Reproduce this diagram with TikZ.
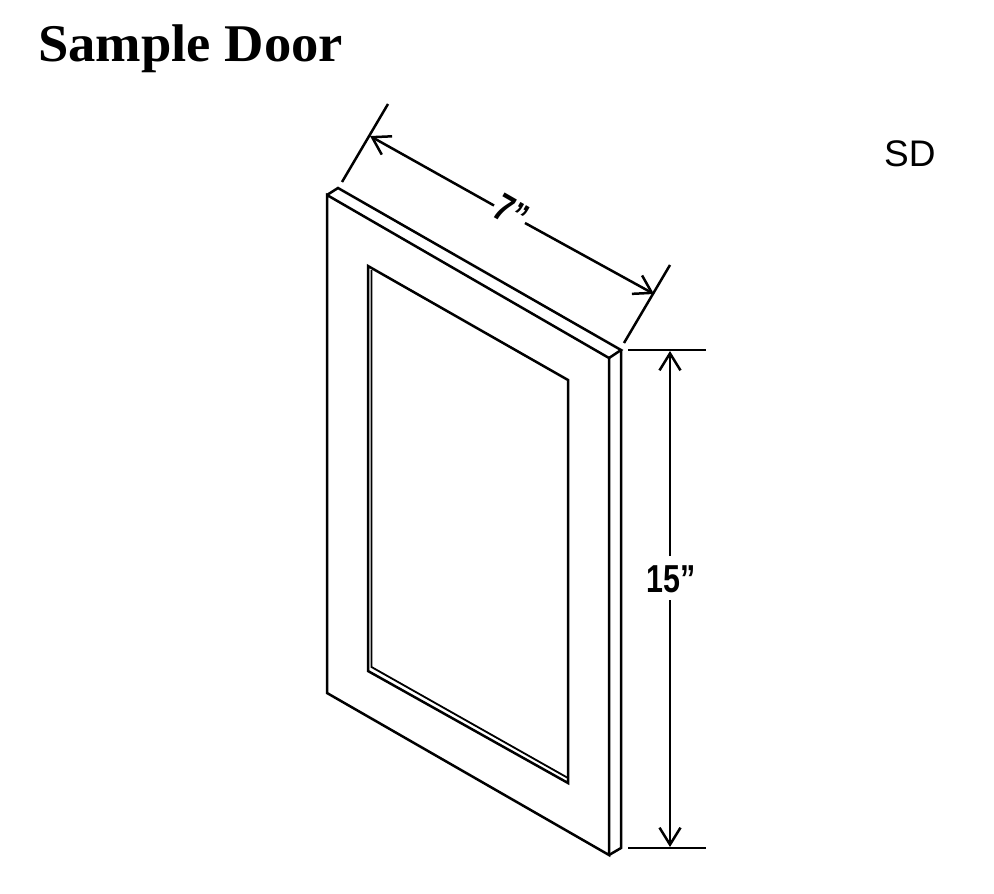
\documentclass[tikz,border=0pt]{standalone}
\usepackage{fontspec}
\usetikzlibrary{arrows.meta}
\setmainfont{Liberation Serif}
\newfontfamily\dimfont{Liberation Sans}
\tikzset{
  x=1pt,y=-1pt,
  edge/.style={line width=2.5pt,line join=miter,black},
  thinedge/.style={line width=1.8pt,black},
  extline/.style={line width=2.5pt,black},
  dimline/.style={line width=2.5pt,black,-{Straight Barb[length=17pt,width=21pt]}},
  titletext/.style={font=\bfseries\fontsize{53}{53}\selectfont,inner sep=0pt,anchor=base west,xscale=1.03},
  codetext/.style={font=\dimfont\fontsize{37}{37}\selectfont,inner sep=0pt,anchor=base west},
  dimtext/.style={font=\dimfont\bfseries\fontsize{39}{39}\selectfont,inner sep=0pt,xscale=0.78},
}
\begin{document}
\begin{tikzpicture}
\useasboundingbox[fill=white] (0,0) rectangle (994,894);
% door corners
\coordinate (ftl) at (327,195);
\coordinate (fbl) at (327,693);
\coordinate (fbr) at (609,855);
\coordinate (ftr) at (609,358);
\coordinate (btl) at (338,188);
\coordinate (btr) at (621,350);
\coordinate (bbr) at (621,848);
% panel corners
\coordinate (ptl) at (368,266);
\coordinate (ptr) at (568,380);
\coordinate (pbr) at (568,783);
\coordinate (pbl) at (368,671);
\coordinate (qtl) at (371.5,270);
\coordinate (qbl) at (371.5,667);
\coordinate (qbr) at (568,778);
% dimension helpers
\coordinate (wa0) at (342,182);
\coordinate (wa1) at (388,104);
\coordinate (wb0) at (624,343);
\coordinate (wb1) at (670,265);
\coordinate (wtipa) at (370,136);
\coordinate (wtipb) at (654,294);
\coordinate (wgapa) at (494,205.5);
\coordinate (wgapb) at (525,223);
\coordinate (ha0) at (628,350);
\coordinate (ha1) at (706,350);
\coordinate (hb0) at (628,848);
\coordinate (hb1) at (706,848);
\coordinate (htipa) at (670,351);
\coordinate (htipb) at (670,847);
\coordinate (hgapa) at (670,556);
\coordinate (hgapb) at (670,600);
% door
\draw[edge] (ftl) -- (fbl) -- (fbr) -- (ftr) -- cycle;
\draw[edge] (ftl) -- (btl) -- (btr) -- (ftr);
\draw[edge] (btr) -- (bbr) -- (fbr);
% panel
\draw[edge] (ptl) -- (ptr) -- (pbr) -- (pbl) -- cycle;
\draw[thinedge] (qtl) -- (qbl) -- (qbr);
% dimensions
\draw[extline] (wa0) -- (wa1);
\draw[extline] (wb0) -- (wb1);
\draw[extline] (ha0) -- (ha1);
\draw[extline] (hb0) -- (hb1);
\draw[dimline] (wgapa) -- (wtipa);
\draw[dimline] (wgapb) -- (wtipb);
\draw[dimline] (hgapa) -- (htipa);
\draw[dimline] (hgapb) -- (htipb);
% texts
\node[titletext] (title) at (38,61) {Sample Door};
\node[codetext] (code) at (884,166) {SD};
\node[rotate=-30,dimtext] (wlabel) at (511,212) {7”};
\node[dimtext] (hlabel) at (671,579) {15”};
\end{tikzpicture}
\end{document}
